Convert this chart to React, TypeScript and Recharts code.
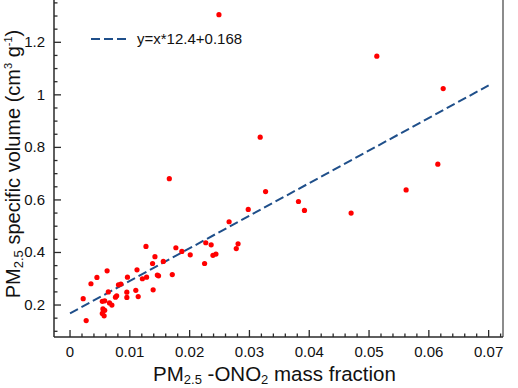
import React from "react";
import {
  ScatterChart,
  Scatter,
  XAxis,
  YAxis,
  ReferenceLine,
  Legend,
  Label,
} from "recharts";

// Measured PM2.5 -ONO2 mass fraction (x) and PM2.5 specific volume (y)
const MASS_FRACTION = [
  0.0249, 0.0513, 0.0624, 0.0318, 0.0166, 0.0327, 0.0298, 0.0266, 0.0615, 0.0562,
  0.0382, 0.0392, 0.047, 0.0127, 0.0177, 0.0187, 0.0227, 0.0236, 0.0281, 0.0278,
  0.0201, 0.0239, 0.0244, 0.0225, 0.0142, 0.0138, 0.0156, 0.0112, 0.0062, 0.0045,
  0.0035, 0.0022, 0.0027, 0.0096, 0.0081, 0.0085, 0.0121, 0.0128, 0.0146, 0.0148,
  0.0171, 0.0139, 0.011, 0.0114, 0.0095, 0.0095, 0.0078, 0.0076, 0.0064, 0.0054,
  0.0058, 0.0066, 0.007, 0.0055, 0.0058, 0.0054, 0.0057,
];
const SPECIFIC_VOLUME = [
  1.305, 1.147, 1.024, 0.839, 0.681, 0.632, 0.564, 0.517, 0.736, 0.638,
  0.594, 0.56, 0.55, 0.423, 0.418, 0.404, 0.437, 0.429, 0.433, 0.415,
  0.391, 0.389, 0.394, 0.358, 0.384, 0.358, 0.366, 0.334, 0.33, 0.305,
  0.281, 0.224, 0.141, 0.306, 0.277, 0.28, 0.3, 0.306, 0.314, 0.311,
  0.316, 0.258, 0.256, 0.232, 0.249, 0.229, 0.235, 0.23, 0.25, 0.214,
  0.216, 0.208, 0.2, 0.185, 0.18, 0.168, 0.159,
];

// Linear fit
const FIT_SLOPE = 12.4;
const FIT_INTERCEPT = 0.168;
const FIT_RANGE = [0, 0.07];
const FIT_LABEL = `y=x*${FIT_SLOPE}+${FIT_INTERCEPT}`;

// Axes
const X_DOMAIN = [-0.00268, 0.0724];
const Y_DOMAIN = [0.0783, 1.361];
const X_MAJOR_TICKS = [0, 0.01, 0.02, 0.03, 0.04, 0.05, 0.06, 0.07];
const X_TICK_LABELS = ["0", "0.01", "0.02", "0.03", "0.04", "0.05", "0.06", "0.07"];
const Y_MAJOR_TICKS = [0.2, 0.4, 0.6, 0.8, 1, 1.2];
const Y_TICK_LABELS = ["0.2", "0.4", "0.6", "0.8", "1", "1.2"];
const X_MINOR_STEP = 0.002;
const Y_MINOR_STEP = 0.05;

const FONT = "'Liberation Sans', Arial, Helvetica, sans-serif";
const AXIS_COLOR = "#2a2a2a";
const TEXT_COLOR = "#111";
const POINT_COLOR = "#ff0000";
const FIT_COLOR = "#1f4f8a";

const points = MASS_FRACTION.map((x, i) => ({ x, y: SPECIFIC_VOLUME[i] }));
const fit = (x: number) => x * FIT_SLOPE + FIT_INTERCEPT;
const fitSegment = FIT_RANGE.map((x) => ({ x, y: fit(x) }));

const stepTicks = (lo: number, hi: number, step: number) => {
  const out: number[] = [];
  for (let i = Math.ceil(lo / step - 1e-9); i * step <= hi + 1e-9; i++) {
    out.push(Number((i * step).toFixed(4)));
  }
  return out;
};
const xTicks = stepTicks(0, X_DOMAIN[1], X_MINOR_STEP);
const yTicks = stepTicks(Y_DOMAIN[0], Y_DOMAIN[1], Y_MINOR_STEP);

const majorIndex = (list: number[], v: number) =>
  list.findIndex((m) => Math.abs(m - v) < 1e-9);

const XTick = (props: any) => {
  const { x, y, payload } = props;
  const idx = majorIndex(X_MAJOR_TICKS, payload.value);
  const len = idx >= 0 ? 7 : 3.5;
  return (
    <g>
      <line x1={x} x2={x} y1={y} y2={y - len} stroke={AXIS_COLOR} strokeWidth={1.3} />
      {idx >= 0 && (
        <text x={x} y={y + 20} textAnchor="middle" fontSize={15} fontFamily={FONT} fill={TEXT_COLOR}>
          {X_TICK_LABELS[idx]}
        </text>
      )}
    </g>
  );
};

const YTick = (props: any) => {
  const { x, y, payload } = props;
  const idx = majorIndex(Y_MAJOR_TICKS, payload.value);
  const len = idx >= 0 ? 7 : 3.5;
  return (
    <g>
      <line x1={x} x2={x + len} y1={y} y2={y} stroke={AXIS_COLOR} strokeWidth={1.3} />
      {idx >= 0 && (
        <text x={x - 9} y={y + 5} textAnchor="end" fontSize={15} fontFamily={FONT} fill={TEXT_COLOR}>
          {Y_TICK_LABELS[idx]}
        </text>
      )}
    </g>
  );
};

const XTitle = (props: any) => {
  const { viewBox } = props;
  const cx = viewBox.x + viewBox.width / 2 - 4;
  const cy = viewBox.y + 44;
  return (
    <text x={cx} y={cy} textAnchor="middle" fontSize={20.5} fontFamily={FONT} fill={TEXT_COLOR}>
      PM
      <tspan fontSize={13} dy={3}>2.5</tspan>
      <tspan dy={-3}> -ONO</tspan>
      <tspan fontSize={13} dy={3}>2</tspan>
      <tspan dy={-3}> mass fraction</tspan>
    </text>
  );
};

const YTitle = () => {
  const cx = 19.5;
  const cy = 164;
  return (
    <text
      x={cx}
      y={cy}
      textAnchor="middle"
      fontSize={20}
      fontFamily={FONT}
      fill={TEXT_COLOR}
      transform={`rotate(-90, ${cx}, ${cy})`}
    >
      PM
      <tspan fontSize={13} dy={3.5}>2.5</tspan>
      <tspan dy={-3.5}> specific volume (cm</tspan>
      <tspan fontSize={11} dy={-8}>3</tspan>
      <tspan dy={8}> g</tspan>
      <tspan fontSize={11} dy={-8}>-1</tspan>
      <tspan dy={8}>)</tspan>
    </text>
  );
};

const FitLegend = () => (
  <div
    style={{
      display: "flex",
      alignItems: "center",
      fontFamily: FONT,
      fontSize: 15,
      color: TEXT_COLOR,
      whiteSpace: "nowrap",
    }}
  >
    <svg width={36} height={4} style={{ display: "block" }}>
      <line x1={0} x2={36} y1={2} y2={2} stroke={FIT_COLOR} strokeWidth={2} strokeDasharray="9 4" />
    </svg>
    <span style={{ marginLeft: 10 }}>{FIT_LABEL}</span>
  </div>
);

const Dot = (props: any) => <circle cx={props.cx} cy={props.cy} r={2.6} fill={POINT_COLOR} />;

export default function App() {
  return (
    <div style={{ position: "absolute", left: 0, top: 0, background: "#fff" }}>
      <ScatterChart width={518} height={388} margin={{ top: 0, right: 15, bottom: 0, left: 0 }}>
        <XAxis
          type="number"
          dataKey="x"
          domain={X_DOMAIN}
          allowDataOverflow
          ticks={xTicks}
          interval={0}
          tick={<XTick />}
          tickLine={false}
          tickSize={0}
          tickMargin={0}
          height={51}
          axisLine={{ stroke: AXIS_COLOR, strokeWidth: 1.5 }}
        >
          <Label content={<XTitle />} />
        </XAxis>
        <YAxis
          type="number"
          dataKey="y"
          domain={Y_DOMAIN}
          allowDataOverflow
          ticks={yTicks}
          interval={0}
          tick={<YTick />}
          tickLine={false}
          tickSize={0}
          tickMargin={0}
          width={54}
          axisLine={{ stroke: AXIS_COLOR, strokeWidth: 1.5 }}
        >
          <Label content={<YTitle />} />
        </YAxis>
        <ReferenceLine x={X_DOMAIN[1]} stroke="#666" strokeWidth={1.5} />
        <ReferenceLine
          segment={fitSegment}
          stroke={FIT_COLOR}
          strokeWidth={2}
          strokeDasharray="9 4"
        />
        <Scatter data={points} shape={<Dot />} isAnimationActive={false} />
        <Legend
          layout="vertical"
          align="center"
          verticalAlign="middle"
          content={<FitLegend />}
          wrapperStyle={{ left: 91, top: 30, width: "auto" }}
        />
      </ScatterChart>
    </div>
  );
}
